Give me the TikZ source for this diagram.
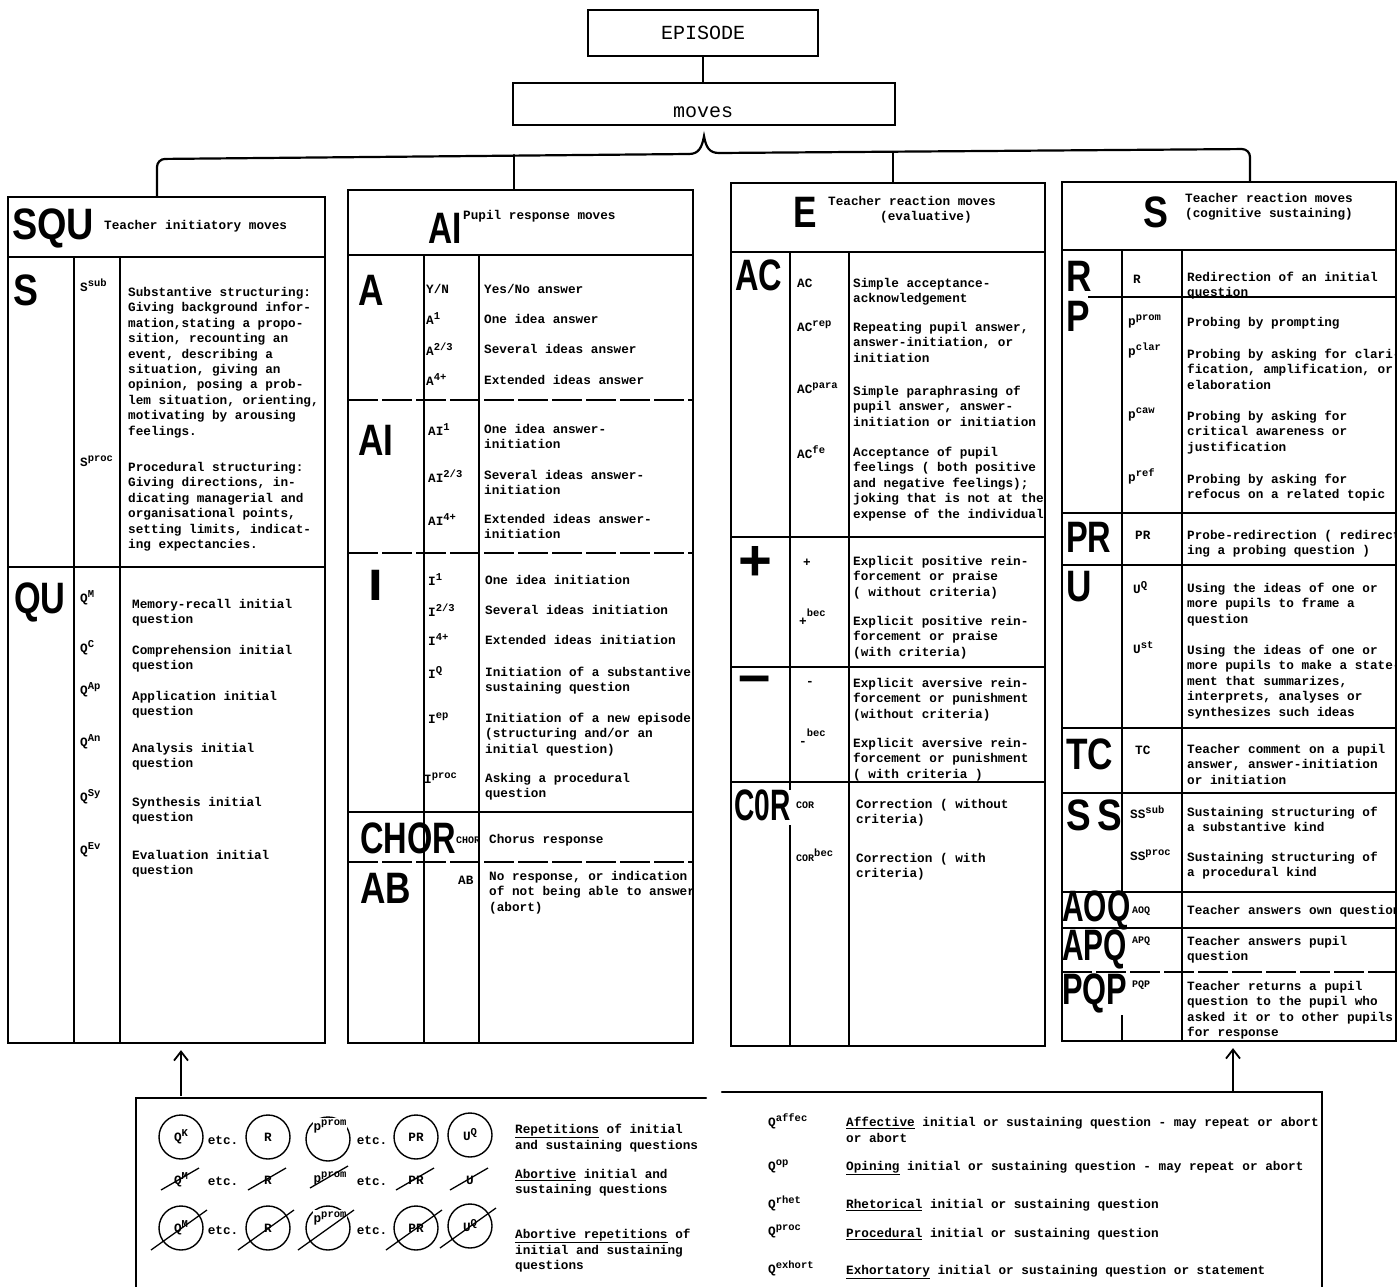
\documentclass[tikz,border=0pt]{standalone}
\usepackage{fontspec}
\usepackage{graphicx}
\usetikzlibrary{arrows.meta}
\setmainfont{Liberation Mono}
\newfontfamily\tagfam{Liberation Sans}
\newcommand\twf{\fontsize{12.7}{15.4}\selectfont\bfseries}
\newcommand\twbig{\fontsize{20}{24}\selectfont}
\newcommand\tagf{\fontsize{44}{44}\selectfont\tagfam\bfseries}
\newcommand\bt[2][0.76]{\scalebox{#1}[1]{#2}}
\newcommand\supx[1]{\raisebox{5pt}{\fontsize{10.5}{12}\selectfont #1}}
\newcommand\lowsign[1]{\raisebox{-4pt}{#1}}

\begin{document}
\begin{tikzpicture}[x=1pt,y=-1pt,
  frame/.style={draw, line width=2.2pt, inner sep=0pt},
  topbox/.style={draw, line width=2.4pt, inner sep=0pt},
  conn/.style={line width=2.2pt, line cap=round},
  hrule/.style={line width=1.6pt},
  vrule/.style={line width=1.3pt},
  drule/.style={line width=1.6pt, dash pattern=on 30pt off 4pt},
  code/.style={anchor=west, inner sep=0pt, font=\twf},
  desc/.style={anchor=north west, inner sep=0pt, align=left, font=\twf},
  tag/.style={anchor=west, inner sep=0pt, font=\tagf},
  ring/.style={circle, draw, line width=1.4pt, minimum size=44pt, inner sep=0pt, font=\twf},
  strike/.style={line width=1.3pt},
  upar/.style={line width=1.8pt, -{Straight Barb[length=9pt,width=14pt]}, shorten >=6pt}
]
\useasboundingbox (0,0) rectangle (1397,1287);
\fill[white] (0,0) rectangle (1397,1287);

% ---------- top of the hierarchy ----------
\node[topbox, minimum width=230pt, minimum height=46pt, font=\twbig] (ep) at (703,33) {EPISODE};
\node[topbox, minimum width=382pt, minimum height=42pt] (mv) at (704,104) {};
\node[font=\twbig, inner sep=0pt] (mvtext) at (703,112) {moves};
\draw[conn] (ep.south) -- (ep.south |- mv.north);

% ---------- the four move columns ----------
\node[frame, minimum width=317pt, minimum height=846pt] (squ) at (166.5,620) {};
\node[frame, minimum width=345pt, minimum height=853pt] (ai) at (520.5,616.5) {};
\node[frame, minimum width=314pt, minimum height=863pt] (ev) at (888,614.5) {};
\node[frame, minimum width=334pt, minimum height=859pt] (cs) at (1229,611.5) {};

% brace under "moves"
\coordinate (tip) at ([yshift=-10pt]mv.south);
\coordinate (dropA) at (157,159);
\coordinate (dropB) at (514,155);
\coordinate (dropC) at (893,153);
\coordinate (dropD) at (1250,149);
\draw[conn, rounded corners=8pt] (dropA |- squ.north) -- (dropA) -- (689,154);
\draw[conn] (689,154) .. controls (699,154) and (702,147) .. (tip) .. controls (706,147) and (709,153) .. (719,153);
\draw[conn, rounded corners=8pt] (719,153) -- (dropD) -- (dropD |- cs.north);
\draw[conn] (dropB) -- (dropB |- ai.north);
\draw[conn] (dropC) -- (dropC |- ev.north);

% ---------- column 1: SQU ----------
\draw[hrule] (8,257) -- (325,257);
\draw[hrule] (8,567) -- (325,567);
\draw[vrule] (74,257) -- (74,1043);
\draw[vrule] (120,257) -- (120,1043);
\node[tag] (t-squ) at (12,228) {\bt[0.86]{SQU}};
\node[code] (h-squ) at (104,226) {Teacher initiatory moves};
\node[tag] (t-s) at (13,290) {\bt[0.85]{S}};
\node[code] (c-ssub) at (80,285) {S\supx{sub}};
\node[desc] (d-ssub) at (128,287) {Substantive structuring:\\Giving background infor-\\mation,stating a propo-\\sition, recounting an\\event, describing a\\situation, giving an\\opinion, posing a prob-\\lem situation, orienting,\\motivating by arousing\\feelings.};
\node[code] (c-sproc) at (80,461) {S\supx{proc}};
\node[desc] (d-sproc) at (128,462) {Procedural structuring:\\Giving directions, in-\\dicating managerial and\\organisational points,\\setting limits, indicat-\\ing expectancies.};
\node[tag] (t-qu) at (14,602) {\bt[0.78]{QU}};
\node[code] (c-qm) at (80,598) {Q\supx{M}};
\node[desc] (d-qm) at (132,599) {Memory-recall initial\\question};
\node[code] (c-qc) at (80,648) {Q\supx{C}};
\node[desc] (d-qc) at (132,645) {Comprehension initial\\question};
\node[code] (c-qap) at (80,690) {Q\supx{Ap}};
\node[desc] (d-qap) at (132,691) {Application initial\\question};
\node[code] (c-qan) at (80,742) {Q\supx{An}};
\node[desc] (d-qan) at (132,743) {Analysis initial\\question};
\node[code] (c-qsy) at (80,797) {Q\supx{Sy}};
\node[desc] (d-qsy) at (132,797) {Synthesis initial\\question};
\node[code] (c-qev) at (80,850) {Q\supx{Ev}};
\node[desc] (d-qev) at (132,850) {Evaluation initial\\question};

% ---------- column 2: AI ----------
\draw[hrule] (348,255) -- (693,255);
\draw[drule] (348,400) -- (693,400);
\draw[drule] (348,553) -- (693,553);
\draw[hrule] (348,812) -- (693,812);
\draw[drule] (348,862) -- (693,862);
\draw[vrule] (424,255) -- (424,1043);
\draw[vrule] (479,255) -- (479,1043);
\node[tag] (t-ai) at (428,228) {\bt{AI}};
\node[code] (h-ai) at (463,216) {Pupil response moves};
\node[tag] (t-a) at (358,290) {\bt[0.8]{A}};
\node[code] (c-yn) at (426,289) {Y/N};
\node[code] (d-yn) at (484,289) {Yes/No answer};
\node[code] (c-a1) at (426,319) {A\supx{1}};
\node[code] (d-a1) at (484,319) {One idea answer};
\node[code] (c-a23) at (426,349) {A\supx{2/3}};
\node[code] (d-a23) at (484,349) {Several ideas answer};
\node[code] (c-a4) at (426,380) {A\supx{4+}};
\node[code] (d-a4) at (484,380) {Extended ideas answer};
\node[tag] (t-ai2) at (358,440) {\bt[0.8]{AI}};
\node[code] (c-ai1) at (428,430) {AI\supx{1}};
\node[desc] (d-ai1) at (484,424) {One idea answer-\\initiation};
\node[code] (c-ai23) at (428,476) {AI\supx{2/3}};
\node[desc] (d-ai23) at (484,470) {Several ideas answer-\\initiation};
\node[code] (c-ai4) at (428,520) {AI\supx{4+}};
\node[desc] (d-ai4) at (484,514) {Extended ideas answer-\\initiation};
\node[tag] (t-i) at (368,585) {\bt[1.2]{I}};
\node[code] (c-i1) at (428,580) {I\supx{1}};
\node[code] (d-i1) at (485,580) {One idea initiation};
\node[code] (c-i23) at (428,610) {I\supx{2/3}};
\node[code] (d-i23) at (485,610) {Several ideas initiation};
\node[code] (c-i4) at (428,640) {I\supx{4+}};
\node[code] (d-i4) at (485,640) {Extended ideas initiation};
\node[code] (c-iq) at (428,672) {I\supx{Q}};
\node[desc] (d-iq) at (485,667) {Initiation of a substantive\\sustaining question};
\node[code] (c-iep) at (428,718) {I\supx{ep}};
\node[desc] (d-iep) at (485,713) {Initiation of a new episode\\(structuring and/or an\\initial question)};
\node[code] (c-iproc) at (424,778) {I\supx{proc}};
\node[desc] (d-iproc) at (485,773) {Asking a procedural\\question};
\node[tag] (t-chor) at (360,838) {\bt[0.74]{CHOR}};
\node[code] (c-chor) at (456,840) {\fontsize{10}{12}\selectfont CHOR};
\node[code] (d-chor) at (489,840) {Chorus response};
\node[tag] (t-ab) at (360,888) {\bt[0.8]{AB}};
\node[code] (c-ab) at (458,880) {AB};
\node[desc] (d-ab) at (489,871) {No response, or indication\\of not being able to answer\\(abort)};

% ---------- column 3: E ----------
\draw[hrule] (731,252) -- (1045,252);
\draw[hrule] (731,537) -- (1045,537);
\draw[hrule] (731,667) -- (1045,667);
\draw[hrule] (731,782) -- (1045,782);
\draw[vrule] (790,252) -- (790,790);
\draw[vrule] (790,825) -- (790,1046);
\draw[vrule] (849,252) -- (849,1046);
\node[tag] (t-e) at (793,212) {\bt[0.8]{E}};
\node[code] (h-e1) at (828,201) {Teacher reaction moves};
\node[code] (h-e2) at (880,217) {(evaluative)};
\node[tag] (t-ac) at (735,275) {\bt[0.74]{AC}};
\node[code] (c-ac) at (797,283) {AC};
\node[desc] (d-ac) at (853,278) {Simple acceptance-\\acknowledgement};
\node[code] (c-acrep) at (797,326) {AC\supx{rep}};
\node[desc] (d-acrep) at (853,322) {Repeating pupil answer,\\answer-initiation, or\\initiation};
\node[code] (c-acpara) at (797,388) {AC\supx{para}};
\node[desc] (d-acpara) at (853,386) {Simple paraphrasing of\\pupil answer, answer-\\initiation or initiation};
\node[code] (c-acfe) at (797,452) {AC\supx{fe}};
\node[desc] (d-acfe) at (853,447) {Acceptance of pupil\\feelings ( both positive\\and negative feelings);\\joking that is not at the\\expense of the individual};
\node[tag, font=\fontsize{58}{58}\selectfont\tagfam\bfseries] (t-plus) at (738,563) {+};
\node[code] (c-plus) at (803,563) {+};
\node[desc] (d-plus) at (853,556) {Explicit positive rein-\\forcement or praise\\( without criteria)};
\node[code] (c-plusb) at (799,617) {\lowsign{+}\supx{bec}};
\node[desc] (d-plusb) at (853,616) {Explicit positive rein-\\forcement or praise\\(with criteria)};
\node[tag, font=\fontsize{58}{58}\selectfont\tagfam\bfseries] (t-minus) at (738,685) {–};
\node[code] (c-minus) at (806,683) {-};
\node[desc] (d-minus) at (853,678) {Explicit aversive rein-\\forcement or punishment\\(without criteria)};
\node[code] (c-minusb) at (799,737) {\lowsign{-}\supx{bec}};
\node[desc] (d-minusb) at (853,738) {Explicit aversive rein-\\forcement or punishment\\( with criteria )};
\node[tag] (t-cor) at (734,805) {\bt[0.64]{C0R}};
\node[code] (c-cor) at (796,805) {\fontsize{10}{12}\selectfont COR};
\node[desc] (d-cor) at (856,799) {Correction ( without\\criteria)};
\node[code] (c-corb) at (796,855) {\fontsize{10}{12}\selectfont COR\supx{bec}};
\node[desc] (d-corb) at (856,853) {Correction ( with\\criteria)};

% ---------- column 4: S ----------
\draw[hrule] (1062,250) -- (1396,250);
\draw[hrule] (1088,297) -- (1396,297);
\draw[hrule] (1062,513) -- (1396,513);
\draw[hrule] (1062,565) -- (1396,565);
\draw[hrule] (1062,728) -- (1396,728);
\draw[hrule] (1062,793) -- (1396,793);
\draw[hrule] (1062,892) -- (1396,892);
\draw[hrule] (1062,928) -- (1396,928);
\draw[drule] (1062,972) -- (1396,972);
\draw[vrule] (1122,250) -- (1122,893);
\draw[vrule] (1122,1015) -- (1122,1041);
\draw[vrule] (1182,250) -- (1182,1041);
\node[tag] (t-s4) at (1143,212) {\bt[0.85]{S}};
\node[code] (h-s1) at (1185,198) {Teacher reaction moves};
\node[code] (h-s2) at (1185,214) {(cognitive sustaining)};
\node[tag] (t-r) at (1066,276) {\bt[0.8]{R}};
\node[code] (c-r) at (1133,279) {R};
\node[desc] (d-r) at (1187,272) {Redirection of an initial\\question};
\node[tag] (t-p) at (1066,316) {\bt[0.8]{P}};
\node[code] (c-pprom) at (1128,321) {p\supx{prom}};
\node[code] (d-pprom) at (1187,323) {Probing by prompting};
\node[code] (c-pclar) at (1128,351) {p\supx{clar}};
\node[desc] (d-pclar) at (1187,349) {Probing by asking for clari-\\fication, amplification, or\\elaboration};
\node[code] (c-pcaw) at (1128,414) {p\supx{caw}};
\node[desc] (d-pcaw) at (1187,411) {Probing by asking for\\critical awareness or\\justification};
\node[code] (c-pref) at (1128,476) {p\supx{ref}};
\node[desc] (d-pref) at (1187,474) {Probing by asking for\\refocus on a related topic};
\node[tag] (t-pr) at (1066,537) {\bt[0.74]{PR}};
\node[code] (c-pr) at (1135,535) {PR};
\node[desc] (d-pr) at (1187,530) {Probe-redirection ( redirect-\\ing a probing question )};
\node[tag] (t-u) at (1066,587) {\bt[0.8]{U}};
\node[code] (c-uq) at (1133,588) {U\supx{Q}};
\node[desc] (d-uq) at (1187,583) {Using the ideas of one or\\more pupils to frame a\\question};
\node[code] (c-ust) at (1133,648) {U\supx{st}};
\node[desc] (d-ust) at (1187,645) {Using the ideas of one or\\more pupils to make a state-\\ment that summarizes,\\interprets, analyses or\\synthesizes such ideas};
\node[tag] (t-tc) at (1066,754) {\bt[0.8]{TC}};
\node[code] (c-tc) at (1135,750) {TC};
\node[desc] (d-tc) at (1187,744) {Teacher comment on a pupil\\answer, answer-initiation\\or initiation};
\node[tag] (t-ss) at (1066,815) {\bt[0.84]{S\,S}};
\node[code] (c-sssub) at (1130,812) {SS\supx{sub}};
\node[desc] (d-sssub) at (1187,807) {Sustaining structuring of\\a substantive kind};
\node[code] (c-ssproc) at (1130,855) {SS\supx{proc}};
\node[desc] (d-ssproc) at (1187,852) {Sustaining structuring of\\a procedural kind};
\node[tag] (t-aoq) at (1062,910) {\bt[0.68]{AOQ}};
\node[code] (c-aoq) at (1132,911) {\fontsize{10}{12}\selectfont AOQ};
\node[code] (d-aoq) at (1187,911) {Teacher answers own question};
\node[tag] (t-apq) at (1062,949) {\bt[0.68]{APQ}};
\node[code] (c-apq) at (1132,941) {\fontsize{10}{12}\selectfont APQ};
\node[desc] (d-apq) at (1187,936) {Teacher answers pupil\\question};
\node[tag] (t-pqp) at (1062,993) {\bt[0.7]{PQP}};
\node[code] (c-pqp) at (1132,985) {\fontsize{10}{12}\selectfont PQP};
\node[desc] (d-pqp) at (1187,981) {Teacher returns a pupil\\question to the pupil who\\asked it or to other pupils\\for response};

% ---------- legend boxes ----------
\coordinate (legL) at (181,1096);
\coordinate (legR) at (1233,1091);
\draw[conn] (136,1287) -- (136,1098) -- (706,1098);
\draw[conn] (722,1092) -- (1322,1092) -- (1322,1287);
\draw[upar] (legL) -- (legL |- squ.south);
\draw[upar] (legR) -- (legR |- cs.south);

% repetitions
\node[ring] (r1a) at (181,1137) {Q\supx{K}};
\node[code, anchor=center] (r1e1) at (223,1140) {etc.};
\node[ring] (r1b) at (268,1137) {R};
\node[ring] (r1c) at (328,1139) {};
\node[code, anchor=center, fill=white, inner sep=1pt] (r1ct) at (330,1126) {p\supx{prom}};
\node[code, anchor=center] (r1e2) at (372,1140) {etc.};
\node[ring] (r1d) at (416,1137) {PR};
\node[ring] (r1f) at (470,1135) {U\supx{Q}};
\node[desc] (l1) at (515,1124) {\underline{Repetitions} of initial\\and sustaining questions};

% abortive
\node[code, anchor=center] (r2a) at (181,1180) {Q\supx{M}};
\node[code, anchor=center] (r2e1) at (223,1181) {etc.};
\node[code, anchor=center] (r2b) at (268,1180) {R};
\node[code, anchor=center] (r2c) at (330,1178) {p\supx{prom}};
\node[code, anchor=center] (r2e2) at (372,1181) {etc.};
\node[code, anchor=center] (r2d) at (416,1180) {PR};
\node[code, anchor=center] (r2f) at (470,1180) {U};
\foreach \n in {r2a,r2b,r2c,r2d,r2f}
  \draw[strike] ([shift={(-20pt,-10pt)}]\n.center) -- ([shift={(18pt,12pt)}]\n.center);
\node[desc] (l2) at (515,1169) {\underline{Abortive} initial and\\sustaining questions};

% abortive repetitions
\node[ring] (r3a) at (181,1228) {Q\supx{M}};
\node[code, anchor=center] (r3e1) at (223,1230) {etc.};
\node[ring] (r3b) at (268,1228) {R};
\node[ring] (r3c) at (328,1228) {};
\node[code, anchor=center, fill=white, inner sep=1pt] (r3ct) at (330,1218) {p\supx{prom}};
\node[code, anchor=center] (r3e2) at (372,1230) {etc.};
\node[ring] (r3d) at (416,1228) {PR};
\node[ring] (r3f) at (470,1226) {U\supx{Q}};
\foreach \n in {r3a,r3b,r3c,r3d,r3f}
  \draw[strike] ([shift={(-30pt,-22pt)}]\n.center) -- ([shift={(26pt,18pt)}]\n.center);
\node[desc] (l3) at (515,1229) {\underline{Abortive repetitions} of\\initial and sustaining\\questions};

% special question kinds
\node[code] (q1) at (768,1121) {Q\supx{affec}};
\node[desc] (q1d) at (846,1117) {\underline{Affective} initial or sustaining question - may repeat or abort\\or abort};
\node[code] (q2) at (768,1166) {Q\supx{op}};
\node[code] (q2d) at (846,1168) {\underline{Opining} initial or sustaining question - may repeat or abort};
\node[code] (q3) at (768,1203) {Q\supx{rhet}};
\node[code] (q3d) at (846,1205) {\underline{Rhetorical} initial or sustaining question};
\node[code] (q4) at (768,1231) {Q\supx{proc}};
\node[code] (q4d) at (846,1234) {\underline{Procedural} initial or sustaining question};
\node[code] (q5) at (768,1268) {Q\supx{exhort}};
\node[code] (q5d) at (846,1272) {\underline{Exhortatory} initial or sustaining question or statement};
\end{tikzpicture}
\end{document}
